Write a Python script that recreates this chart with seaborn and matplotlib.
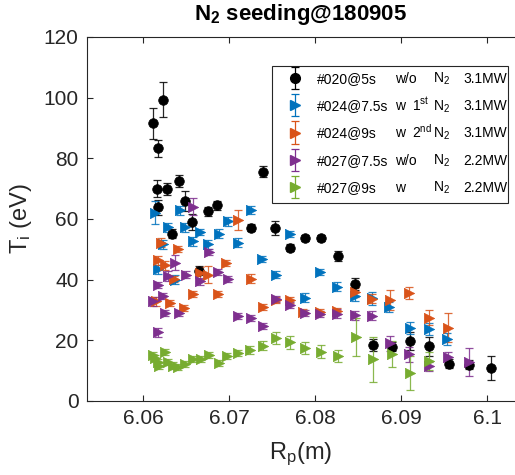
import numpy as np
import pandas as pd
import seaborn as sns
import matplotlib
matplotlib.use("Agg")
import matplotlib.pyplot as plt
from matplotlib.patches import Rectangle
from matplotlib.container import ErrorbarContainer
from matplotlib.legend_handler import HandlerErrorbar

# ---- data: ion temperature profiles vs major radius ----
r_020 = [6.0612, 6.0616, 6.0617, 6.0618, 6.0623, 6.0628, 6.0634, 6.0642, 6.0649, 6.0657,
         6.0665, 6.0676, 6.0686, 6.0725, 6.0740, 6.0754, 6.0771, 6.0788, 6.0807, 6.0827,
         6.0847, 6.0868, 6.0890, 6.0910, 6.0932, 6.0956, 6.0979, 6.1005]
t_020 = [91.5, 69.9, 63.8, 83.4, 99.3, 69.9, 55.2, 72.4, 65.8, 59.0,
         42.9, 62.6, 64.5, 57.1, 75.6, 57.0, 50.6, 53.6, 53.6, 47.8,
         38.6, 18.5, 17.9, 19.8, 18.0, 12.3, 11.9, 10.8]
e_020 = [5.0, 2.8, 2.5, 2.8, 5.8, 2.0, 1.5, 2.0, 3.3, 2.5,
         1.5, 1.5, 1.5, 1.2, 1.8, 2.2, 1.0, 1.0, 1.0, 1.5,
         2.0, 2.0, 1.5, 3.0, 3.0, 1.5, 1.5, 3.9]

r_024a = [6.0614, 6.0618, 6.0623, 6.0629, 6.0637, 6.0643, 6.0649, 6.0658, 6.0666, 6.0676,
          6.0688, 6.0699, 6.0711, 6.0725, 6.0738, 6.0755, 6.0771, 6.0788, 6.0806, 6.0826,
          6.0847, 6.0866, 6.0886, 6.0910, 6.0932, 6.0954]
t_024a = [62.1, 43.4, 51.7, 57.2, 40.0, 62.9, 57.2, 52.7, 55.7, 51.7,
          55.2, 59.2, 52.2, 63.0, 46.7, 41.7, 55.0, 34.0, 42.5, 37.6,
          34.5, 33.8, 31.0, 24.1, 23.7, 20.4]
e_024a = [3.9, 1.5, 1.5, 1.5, 1.5, 1.5, 1.5, 1.5, 1.0, 1.5,
          1.5, 1.5, 1.5, 1.2, 1.0, 1.0, 1.0, 1.5, 1.0, 1.5,
          1.5, 2.0, 1.5, 2.0, 2.0, 2.0]

r_024b = [6.0615, 6.0617, 6.0621, 6.0625, 6.0631, 6.0636, 6.0641, 6.0648, 6.0658, 6.0666,
          6.0676, 6.0687, 6.0697, 6.0711, 6.0725, 6.0739, 6.0755, 6.0771, 6.0786, 6.0806,
          6.0825, 6.0847, 6.0866, 6.0887, 6.0909, 6.0932, 6.0955]
t_024b = [32.9, 46.4, 52.2, 44.8, 32.3, 40.3, 50.0, 30.7, 35.4, 42.1,
          41.7, 35.3, 45.6, 59.7, 40.3, 31.0, 33.4, 33.4, 29.4, 29.3,
          29.8, 35.9, 33.7, 33.4, 35.5, 27.4, 24.1]
e_024b = [1.5, 1.5, 1.5, 1.5, 1.0, 1.0, 1.0, 1.0, 1.0, 2.0,
          2.8, 1.0, 1.0, 3.2, 1.5, 1.0, 1.0, 1.0, 1.0, 1.0,
          1.0, 1.5, 1.5, 3.3, 2.0, 2.5, 4.8]

r_027a = [6.0612, 6.0617, 6.0618, 6.0623, 6.0626, 6.0629, 6.0637, 6.0642, 6.0650, 6.0658,
          6.0666, 6.0677, 6.0687, 6.0699, 6.0711, 6.0725, 6.0739, 6.0755, 6.0771, 6.0788,
          6.0806, 6.0825, 6.0847, 6.0866, 6.0887, 6.0909, 6.0932, 6.0955, 6.0979]
t_027a = [32.9, 38.2, 22.7, 34.6, 29.1, 41.2, 45.6, 28.9, 41.7, 64.0,
          39.4, 49.2, 42.6, 40.1, 28.1, 27.4, 24.6, 33.6, 31.7, 28.9,
          28.7, 28.7, 28.3, 28.1, 19.0, 15.4, 11.5, 14.5, 13.0]
e_027a = [1.5, 1.0, 1.5, 1.0, 1.0, 1.5, 2.5, 1.0, 1.0, 2.8,
          1.0, 1.0, 1.0, 1.0, 1.0, 1.0, 1.0, 1.0, 1.0, 1.0,
          1.0, 1.5, 1.5, 1.5, 2.5, 2.5, 1.5, 1.5, 4.6]

r_027b = [6.0612, 6.0614, 6.0617, 6.0619, 6.0626, 6.0629, 6.0635, 6.0641, 6.0649, 6.0658,
          6.0667, 6.0677, 6.0688, 6.0698, 6.0710, 6.0724, 6.0739, 6.0755, 6.0771, 6.0788,
          6.0807, 6.0827, 6.0848, 6.0868, 6.0889, 6.0911, 6.0933]
t_027b = [15.2, 14.1, 13.0, 11.6, 16.3, 12.8, 11.7, 11.2, 12.3, 13.9,
          13.9, 15.3, 12.4, 14.8, 15.9, 16.8, 18.2, 20.9, 19.3, 17.4,
          16.3, 14.9, 21.1, 13.7, 15.6, 9.3, 13.1]
e_027b = [1.0, 1.0, 1.0, 1.0, 1.0, 1.0, 1.0, 1.0, 1.0, 1.0,
          1.0, 1.0, 1.0, 1.0, 1.0, 1.2, 1.5, 2.0, 2.0, 2.0,
          2.0, 2.0, 6.2, 7.4, 4.3, 5.6, 3.0]

shots = ["#020@5s", "#024@7.5s", "#024@9s", "#027@7.5s", "#027@9s"]
seed_flag = ["w/o", "w", "w", "w/o", "w"]
seed_order = ["", r"1$^{\mathrm{st}}$", r"2$^{\mathrm{nd}}$", "", ""]
power = ["3.1MW", "3.1MW", "3.1MW", "2.2MW", "2.2MW"]

x_ticks = [6.06, 6.07, 6.08, 6.09, 6.10]
x_ticklabels = ["6.06", "6.07", "6.08", "6.09", "6.1"]
y_ticks = [0, 20, 40, 60, 80, 100, 120]

colors = ["#000000", "#0072BD", "#D95319", "#7E2F8E", "#77AC30"]
markers = ["o", ">", ">", ">", ">"]

series = [(r_020, t_020, e_020), (r_024a, t_024a, e_024a), (r_024b, t_024b, e_024b),
          (r_027a, t_027a, e_027a), (r_027b, t_027b, e_027b)]

# ---- style ----
sns.set_theme(style="white")
plt.rcParams["font.family"] = ["Liberation Sans", "DejaVu Sans"]
plt.rcParams["mathtext.fontset"] = "custom"
plt.rcParams["mathtext.rm"] = "Liberation Sans"
plt.rcParams["mathtext.it"] = "Liberation Sans:italic"
plt.rcParams["mathtext.bf"] = "Liberation Sans:bold"

ink = "#262626"
W, H = 515, 475
fig = plt.figure(figsize=(W / 100, H / 100), dpi=100)
ax = fig.add_axes([87 / W, (H - 401) / H, (W - 87) / W, (401 - 37) / H])

handles = []
for (r, t, e), col, mk, name in zip(series, colors, markers, shots):
    df = pd.DataFrame({"R": r, "T": t, "err": e})
    ax.errorbar(df["R"], df["T"], yerr=df["err"], fmt="none", ecolor=col,
                elinewidth=0.9, capsize=3, capthick=0.9, alpha=0.85)
    sns.scatterplot(data=df, x="R", y="T", ax=ax, marker=mk, color=col,
                    s=48 if mk == "o" else 55, edgecolor=col, linewidth=0.5,
                    legend=False, zorder=3)
    # legend proxy: marker with its error bar, no visible data
    proxy = ax.errorbar([np.nan], [np.nan], yerr=[1.0], fmt=mk, color=col, ecolor=col,
                        markersize=7 if mk == "o" else 7.5, markeredgecolor=col,
                        elinewidth=0.9, capsize=3, capthick=0.9)
    handles.append(proxy)

ax.set_xlim(6.06 - 56 / 8600, 6.10 + 28 / 8600)
ax.set_ylim(0, 120)
ax.set_xticks(x_ticks)
ax.set_xticklabels(x_ticklabels)
ax.set_yticks(y_ticks)
ax.tick_params(direction="in", length=4, width=0.8, colors=ink, labelsize=15,
               top=True, right=False, bottom=True, left=True, pad=6)
for side in ["left", "bottom", "top"]:
    ax.spines[side].set_color(ink)
    ax.spines[side].set_linewidth(0.8)
ax.spines["right"].set_visible(False)

ax.set_xlabel(r"R$_\mathrm{p}$(m)", fontsize=17, color=ink, labelpad=9)
ax.set_ylabel(r"T$_\mathrm{i}$ (eV)", fontsize=17, color=ink, labelpad=7)
ax.set_title(r"N$_\mathbf{2}$ seeding@180905", fontsize=16, fontweight="bold",
             color="black", pad=12)

# ---- legend: markers with error bars plus aligned text columns ----
leg = ax.legend(handles, shots, loc="upper left", bbox_to_anchor=(0.45, 0.90),
                frameon=False, fontsize=10, handlelength=1.2, handletextpad=1.0,
                labelspacing=0.95, borderpad=0.0, borderaxespad=0.0,
                handler_map={ErrorbarContainer: HandlerErrorbar(xerr_size=0.3, yerr_size=0.8)})
leg.set_zorder(6)
for txt in leg.get_texts():
    txt.set_color("black")

fig.canvas.draw()
renderer = fig.canvas.get_renderer()

# shift the legend so its first label starts at the wanted spot
target_x, target_base = 317, H - 83
t0 = leg.get_texts()[0]
bb = t0.get_window_extent(renderer)
desc = t0._get_layout(renderer)[2]
dx = target_x - bb.x0
dy = target_base - (bb.y0 + desc)
ax_bb = ax.get_window_extent(renderer)
leg.set_bbox_to_anchor((0.45 + dx / ax_bb.width, 0.90 + dy / ax_bb.height),
                       transform=ax.transAxes)
fig.canvas.draw()

inv = ax.transAxes.inverted()
col_x = {"flag": (395 - 87) / 428, "order": (412 - 87) / 428,
         "gas": (433 - 87) / 428, "power": (463 - 87) / 428}
for txt, fl, od, pw in zip(leg.get_texts(), seed_flag, seed_order, power):
    bb = txt.get_window_extent(renderer)
    desc = txt._get_layout(renderer)[2]
    _, yb = inv.transform((0, bb.y0 + desc))
    kw = dict(transform=ax.transAxes, va="baseline", ha="left", fontsize=10,
              color="black", zorder=7)
    ax.text(col_x["flag"], yb, fl, **kw)
    if od:
        ax.text(col_x["order"], yb, od, **kw)
    ax.text(col_x["gas"], yb, r"N$_2$", **kw)
    ax.text(col_x["power"], yb, pw, **kw)

frame = Rectangle(((272 - 87) / 428, (401 - 203) / 364), (508 - 272) / 428, (203 - 66) / 364,
                  transform=ax.transAxes, facecolor="white", edgecolor=ink,
                  linewidth=0.8, zorder=4)
ax.add_patch(frame)

fig.savefig("out.png", dpi=100)
